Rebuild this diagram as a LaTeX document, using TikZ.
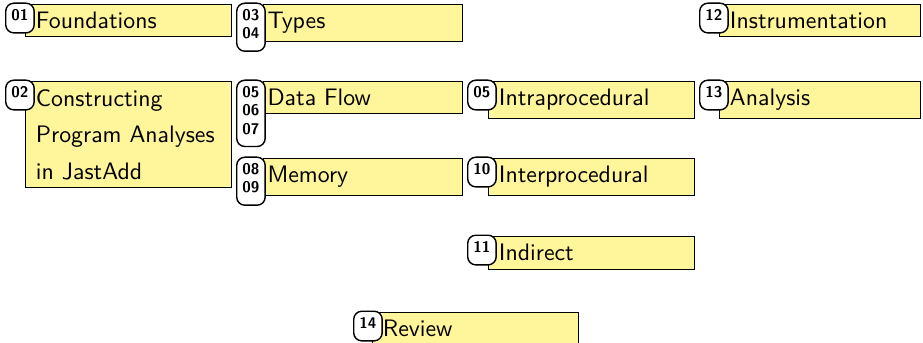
\documentclass[tikz,border=0pt]{standalone}
\usepackage{fontspec}
\definecolor{topicyellow}{RGB}{255,245,155}
\tikzset{
  topic/.style={draw=black, line width=.4pt, fill=topicyellow, anchor=north west, align=left,
    font=\sffamily\fontsize{10}{15.3}\selectfont, inner xsep=4.4pt, inner ysep=3.3pt, text width=77.6pt},
  topicnarrow/.style={inner xsep=1.7pt, text width=80.2pt},
  num/.style={draw=black, line width=.6pt, fill=white, rounded corners=3.4pt, anchor=north west, align=center,
    font=\sffamily\bfseries\fontsize{6.5}{7.7}\selectfont, inner xsep=2.4pt, inner ysep=2.6pt,
    execute at end node={\rule[-2.6pt]{0pt}{2.6pt}}}
}
\begin{document}
\begin{tikzpicture}[x=.42pt,y=-.42pt]
\useasboundingbox (0,0) rectangle (923,343);
\node[topic] (found) at (25,4) {Foundations};
\node[topic] (jastadd) at (25,81) {Constructing\\Program Analyses\\in JastAdd};
\node[topic,topicnarrow] (types) at (263,4) {Types};
\node[topic,topicnarrow] (dataflow) at (263,81) {Data Flow};
\node[topic,topicnarrow] (memory) at (263,158) {Memory};
\node[topic] (intra) at (488,81) {Intraprocedural};
\node[topic] (inter) at (488,158) {Interprocedural};
\node[topic] (indirect) at (488,236) {Indirect};
\node[topic,text width=75.6pt] (instr) at (719,4) {Instrumentation};
\node[topic,text width=75.6pt] (analysis) at (719,81) {Analysis};
\node[topic] (review) at (372,312) {Review};
\node[num] (n01) at (5,2.5) {01};
\node[num] (n02) at (5,79.5) {02};
\node[num] (n03) at (236,2.5) {03\\04};
\node[num] (n05) at (236,79.5) {05\\06\\07};
\node[num] (n08) at (236,156.5) {08\\09};
\node[num] (n05b) at (467,79.5) {05};
\node[num] (n10) at (467,156.5) {10};
\node[num] (n11) at (467,234.5) {11};
\node[num] (n12) at (699,2.5) {12};
\node[num] (n13) at (699,79.5) {13};
\node[num] (n14) at (353,310.5) {14};
\end{tikzpicture}
\end{document}
